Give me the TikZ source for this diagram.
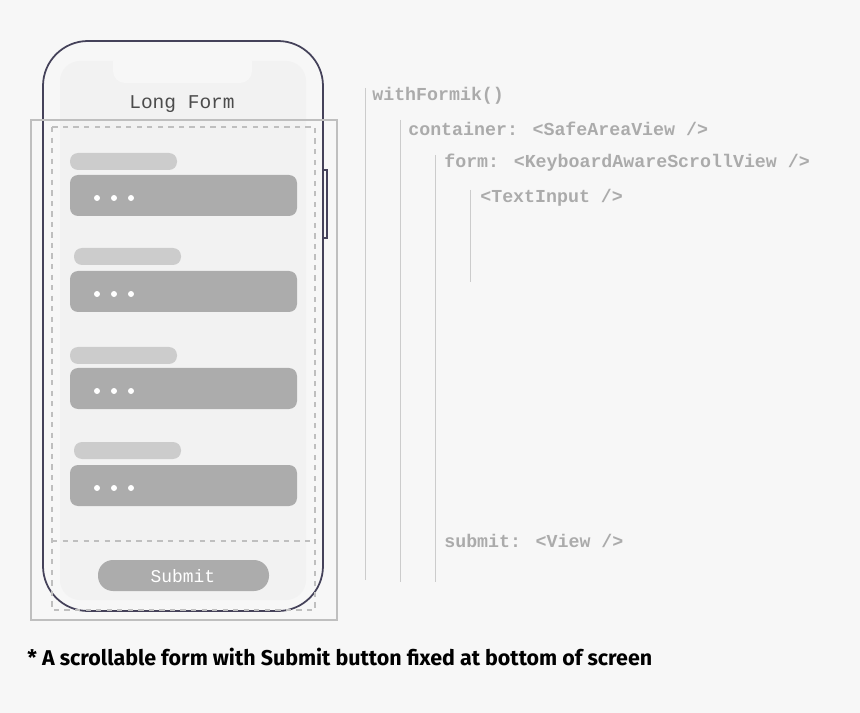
\documentclass[tikz,border=0pt]{standalone}
\usepackage{fontspec}
\usepackage{tikz}
\usetikzlibrary{positioning}
\setmainfont{Fira Sans}
\newfontfamily\codefont{Liberation Mono}
\definecolor{pageGray}{HTML}{F7F7F7}
\definecolor{screenGray}{HTML}{F2F2F2}
\definecolor{labelGray}{HTML}{CCCCCC}
\definecolor{fieldGray}{HTML}{ACACAC}
\definecolor{codeGray}{HTML}{ABABAB}
\definecolor{phoneLine}{HTML}{45425A}

\begin{document}
\begin{tikzpicture}
  [
    x=0.02cm, y=-0.02cm,
    Label/.style={fill=labelGray, rounded corners=8*0.02cm},
    Field/.style={fill=fieldGray, rounded corners=8*0.02cm},
    Dot/.style={circle, fill=white, inner sep=0pt, minimum size=3.4pt},
    Code/.style={anchor=west, inner sep=0pt, text=codeGray, font=\codefont\bfseries\fontsize{10.4}{12}\selectfont},
    Guide/.style={draw=labelGray, line width=0.5pt}
  ]
  % Background
  \fill[pageGray] (0,0) rectangle (860,713);
  \useasboundingbox (0,0) rectangle (860,713);

  % Phone
  \fill[pageGray] (323,170) rectangle (327,238);
  \draw[phoneLine, line width=0.9pt] (323,170) rectangle (327,238);
  \draw[phoneLine, line width=1pt, fill=pageGray, rounded corners=45*0.02cm] (43,41) rectangle (323,611);
  \fill[screenGray, rounded corners=20*0.02cm] (60,61) rectangle (306,600);
  \fill[pageGray, rounded corners=12*0.02cm] (113,50) rectangle (252,83);
  \node[text=black!70, font=\codefont\fontsize{11.1}{13}\selectfont] (title) at (182,104) {Long Form};

  % Scroll area
  \draw[black!25, line width=0.8pt] (31,120) rectangle (337,620);
  \draw[black!25, dashed, line width=0.8pt] (52,127) rectangle (315,610);
  \draw[black!25, dashed, line width=0.8pt] (52,541) -- (315,541);

  % Fields
  \foreach \i/\lx/\ly/\fy in {1/70/153/175, 2/74/248/271, 3/70/347/368, 4/74/442/465} {
    \fill[Label] (\lx,\ly) rectangle (\lx+107,\ly+17);
    \fill[Field] (70,\fy) rectangle (297,\fy+41);
    \foreach \dx in {97,114,131}
      \node[Dot] at (\dx,\fy+23) {};
  }

  % Submit
  \fill[fieldGray, rounded corners=15*0.02cm] (98,560) rectangle (269,591);
  \node[text=white, font=\codefont\fontsize{10.2}{12}\selectfont] (submitBtn) at (183,576) {Submit};

  % Tree
  \draw[Guide] (365,88) -- (365,580);
  \draw[Guide] (400,120) -- (400,582);
  \draw[Guide] (435,155) -- (435,582);
  \draw[Guide] (470,190) -- (470,282);
  \node[Code] (formik) at (372,96) {withFormik()};
  \node[Code] (container) at (408,129) {container: <SafeAreaView />};
  \node[Code] (form) at (444,163) {form: <KeyboardAwareScrollView />};
  \node[Code] (input) at (480,198) {<TextInput />};
  \node[Code] (submit) at (444,541) {submit: <View />};

  % Caption
  \node[anchor=west, inner sep=0pt, font=\bfseries\fontsize{12.2}{14}\selectfont] (caption) at (27,657)
    {* A scrollable form with Submit button fixed at bottom of screen};
\end{tikzpicture}
\end{document}
